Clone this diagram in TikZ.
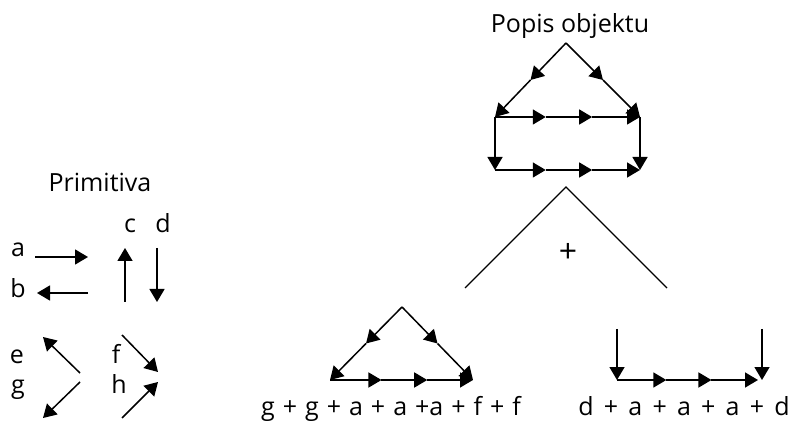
\documentclass[tikz,border=0pt]{standalone}
\usepackage{fontspec}
\setmainfont{Open Sans}
\usetikzlibrary{positioning,arrows.meta,calc}

\begin{document}
\begin{tikzpicture}[x=1pt,y=-1pt]
\tikzstyle{lbl}=[inner sep=0pt, anchor=base, font=\fontsize{25}{30}\selectfont];
\tikzstyle{basearr}=[line width=1.5pt, black];
\tikzstyle{arr}=[basearr, -{Triangle[length=13pt,width=15pt]}];
\tikzstyle{tent}=[line width=1.3pt, black];

\useasboundingbox (0,0) rectangle (792,435);

% primitives
\node[lbl] (primitiva) at (100,192) {Primitiva};
\node[lbl] (la) at (18,257) {a};
\node[lbl] (lb) at (18,298) {b};
\node[lbl] (lc) at (130,233) {c};
\node[lbl] (ld) at (163,233) {d};
\node[lbl] (le) at (17,363) {e};
\node[lbl] (lf) at (116,363) {f};
\node[lbl] (lg) at (18,393) {g};
\node[lbl] (lh) at (119,393) {h};

\coordinate (a0) at (35,257);  \coordinate (a1) at (88,257);
\coordinate (b0) at (88,293);  \coordinate (b1) at (37,293);
\coordinate (c0) at (125,302); \coordinate (c1) at (125,248);
\coordinate (d0) at (157,248); \coordinate (d1) at (157,302);
\coordinate (e0) at (80,373);  \coordinate (e1) at (43,337);
\coordinate (g0) at (80,382);  \coordinate (g1) at (43,418);
\coordinate (f0) at (122,335); \coordinate (f1) at (158,372);
\coordinate (h0) at (122,418); \coordinate (h1) at (158,382);

\foreach \p in {a,b,c,d,e,f,g,h}
  \draw[arr] (\p0) -- (\p1);

% object description
\node[lbl] (popis) at (570,33) {Popis objektu};
\coordinate (top) at (566,43);
\coordinate (tl) at (495,117);
\coordinate (tr) at (640,117);
\coordinate (bl) at (495,170);
\coordinate (br) at (640,170);

\draw[arr] (top) -- ($(top)!0.5!(tl)$);
\draw[arr] ($(top)!0.5!(tl)$) -- (tl);
\draw[arr] (top) -- ($(top)!0.5!(tr)$);
\draw[arr] ($(top)!0.5!(tr)$) -- (tr);
\draw[arr] (tl) -- ($(tl)!0.35!(tr)$);
\draw[arr] ($(tl)!0.35!(tr)$) -- ($(tl)!0.67!(tr)$);
\draw[arr] ($(tl)!0.67!(tr)$) -- (tr);
\draw[arr] (tl) -- (bl);
\draw[arr] (tr) -- (br);
\draw[arr] (bl) -- ($(bl)!0.35!(br)$);
\draw[arr] ($(bl)!0.35!(br)$) -- ($(bl)!0.67!(br)$);
\draw[arr] ($(bl)!0.67!(br)$) -- (br);

% split
\coordinate (sp) at (566,187);
\coordinate (spl) at (465,288);
\coordinate (spr) at (667,288);
\draw[tent] (spl) -- (sp) -- (spr);
\node[lbl, anchor=center, font=\fontsize{32}{36}\selectfont] (plus) at (568,253) {+};

% left part
\coordinate (rt) at (402,307);
\coordinate (rl) at (330,380);
\coordinate (rr) at (473,380);
\draw[arr] (rt) -- ($(rt)!0.5!(rl)$);
\draw[arr] ($(rt)!0.5!(rl)$) -- (rl);
\draw[arr] (rt) -- ($(rt)!0.5!(rr)$);
\draw[arr] ($(rt)!0.5!(rr)$) -- (rr);
\draw[arr] (rl) -- ($(rl)!0.36!(rr)$);
\draw[arr] ($(rl)!0.36!(rr)$) -- ($(rl)!0.68!(rr)$);
\draw[arr] ($(rl)!0.68!(rr)$) -- (rr);
\node[lbl, font={\fontsize{25}{30}\selectfont\spaceskip=8pt\relax}] (leftsum) at (391,415) {g + g + a + a +a + f + f};

% right part
\coordinate (ul) at (617,329);
\coordinate (ur) at (762,329);
\coordinate (ql) at (617,380);
\coordinate (qr) at (762,380);
\coordinate (qe) at (758,380);
\draw[arr] (ul) -- (ql);
\draw[arr] (ur) -- (qr);
\draw[arr] (ql) -- ($(ql)!0.35!(qe)$);
\draw[arr] ($(ql)!0.35!(qe)$) -- ($(ql)!0.67!(qe)$);
\draw[arr] ($(ql)!0.67!(qe)$) -- (qe);
\node[lbl, font={\fontsize{25}{30}\selectfont\spaceskip=10.2pt\relax}] (rightsum) at (684,415) {d + a + a + a + d};

\end{tikzpicture}
\end{document}
